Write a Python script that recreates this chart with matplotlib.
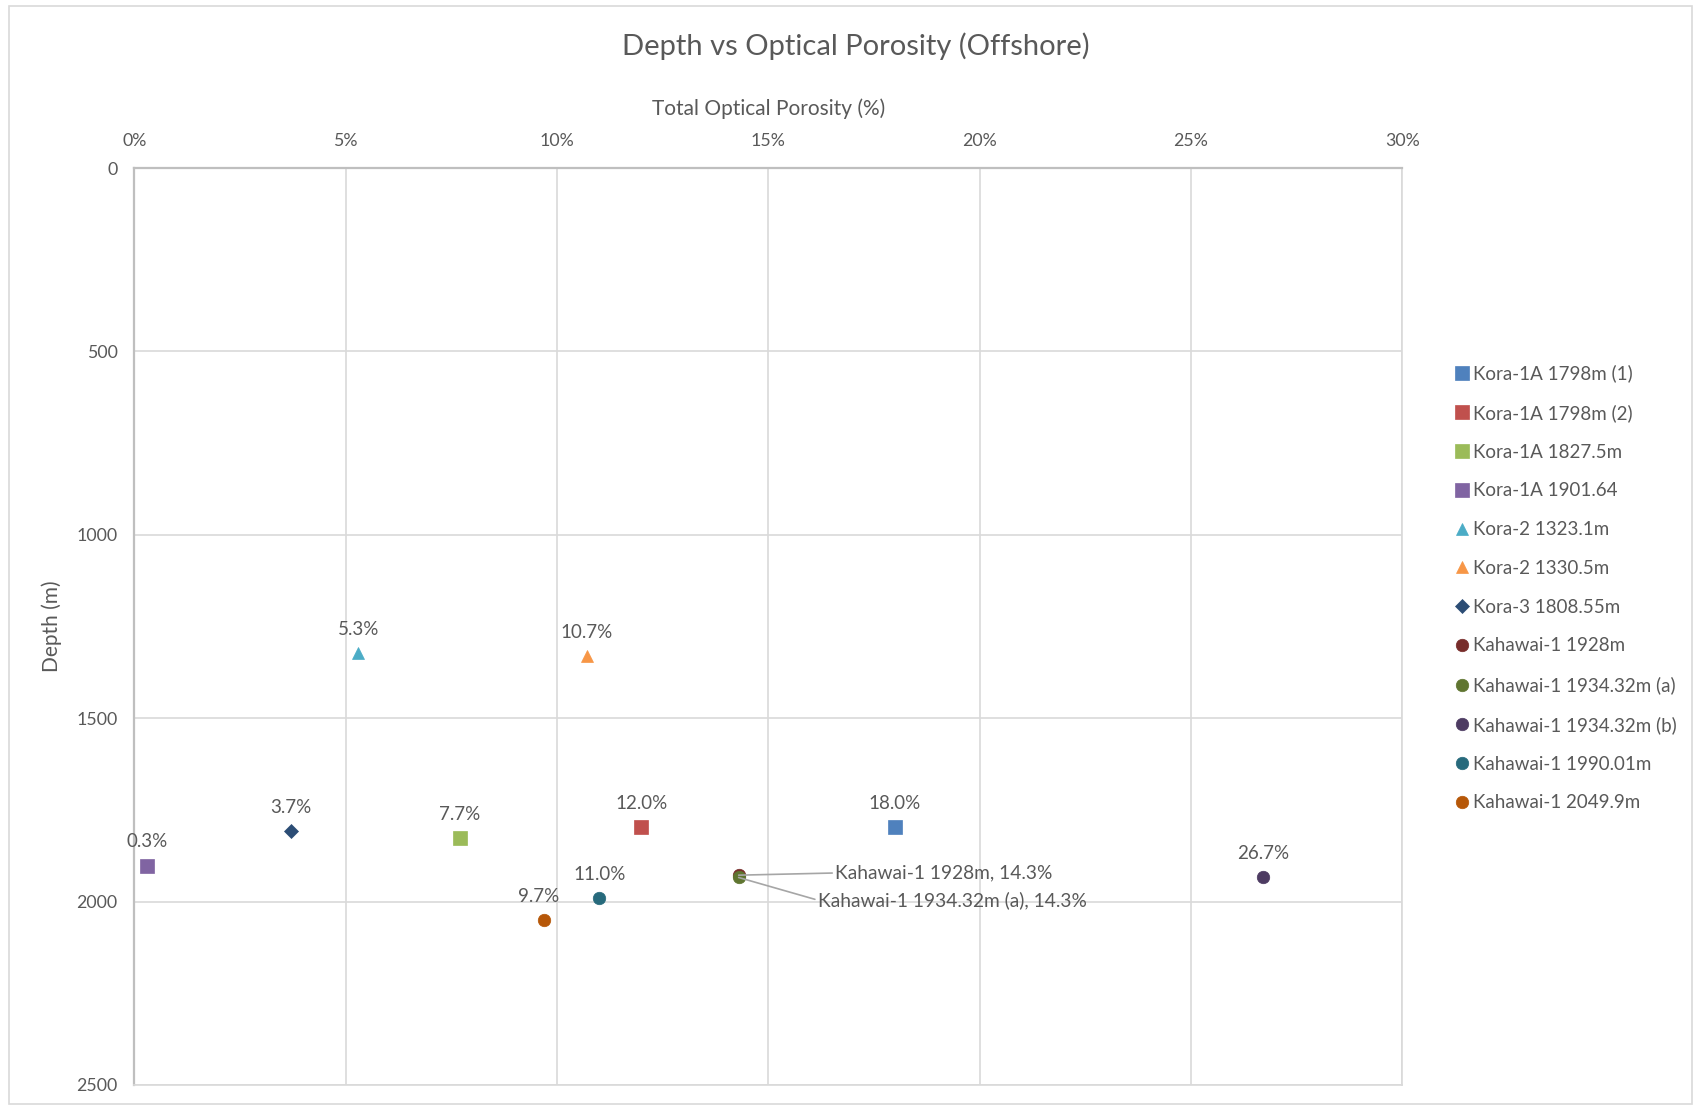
import matplotlib
matplotlib.use("Agg")
import matplotlib.pyplot as plt
from matplotlib.patches import Rectangle
from matplotlib.ticker import FuncFormatter, MultipleLocator

plt.rcParams['font.family'] = ['Lato', 'DejaVu Sans']

# samples: name, porosity (fraction), depth (m)
names = ['Kora-1A 1798m (1)', 'Kora-1A 1798m (2)', 'Kora-1A 1827.5m', 'Kora-1A 1901.64',
         'Kora-2 1323.1m', 'Kora-2 1330.5m', 'Kora-3 1808.55m',
         'Kahawai-1 1928m', 'Kahawai-1 1934.32m (a)', 'Kahawai-1 1934.32m (b)',
         'Kahawai-1 1990.01m', 'Kahawai-1 2049.9m']
porosity = [0.180, 0.120, 0.077, 0.003, 0.053, 0.107, 0.037,
            0.143, 0.143, 0.267, 0.110, 0.097]
depth = [1798, 1798, 1827.5, 1901.64, 1323.1, 1330.5, 1808.55,
         1928, 1934.32, 1934.32, 1990.01, 2049.9]
markers = ['s', 's', 's', 's', '^', '^', 'D', 'o', 'o', 'o', 'o', 'o']
colors = ['#4F81BD', '#C0504D', '#9BBB59', '#8064A2', '#4BACC6', '#F79646',
          '#2C4D75', '#772C2A', '#5F7530', '#4D3B62', '#276A7C', '#B65708']
msizes = [9.5, 9.5, 9.5, 9.5, 9, 9, 7.5, 9, 9, 9, 9, 9]

TXT = '#595959'
GRID = '#D9D9D9'

fig = plt.figure(figsize=(17, 11.07), dpi=100)
fig.patches.append(Rectangle((0.005, 0.003), 0.99, 0.992, transform=fig.transFigure,
                             fill=False, edgecolor='#D9D9D9', linewidth=1.2))
ax = fig.add_axes([0.079, 0.0199, 0.7458, 0.8283])

for n, x, y, m, c, ms in zip(names, porosity, depth, markers, colors, msizes):
    ax.plot([x], [y], linestyle='none', marker=m, color=c, markersize=ms,
            markeredgewidth=0.5, markeredgecolor=c, label=n, zorder=3)

# value labels above points (the two overlapping Kahawai points get callouts)
for n, x, y in zip(names, porosity, depth):
    if n in ('Kahawai-1 1928m', 'Kahawai-1 1934.32m (a)'):
        continue
    dx = -4 if n == 'Kahawai-1 2049.9m' else 0
    ax.annotate(f'{x * 100:.1f}%', (x, y), xytext=(dx, 11), textcoords='offset points',
                ha='center', va='bottom', fontsize=13.5, color=TXT)

callouts = [('Kahawai-1 1928m', 0.1658, 1922), ('Kahawai-1 1934.32m (a)', 0.1617, 1996)]
for n, tx, ty in callouts:
    i = names.index(n)
    ax.annotate(f'{n}, {porosity[i] * 100:.1f}%', (porosity[i], depth[i]), xytext=(tx, ty),
                textcoords='data', ha='left', va='center', fontsize=13.8, color=TXT,
                arrowprops=dict(arrowstyle='-', color='#A6A6A6', lw=1.2,
                                shrinkA=0, shrinkB=0, relpos=(0, 0.5)))

ax.set_xlim(0, 0.30)
ax.set_ylim(2500, 0)
ax.xaxis.set_major_locator(MultipleLocator(0.05))
ax.yaxis.set_major_locator(MultipleLocator(500))
ax.xaxis.set_major_formatter(FuncFormatter(lambda v, p: f'{v * 100:.0f}%'))
ax.xaxis.tick_top()
ax.xaxis.set_label_position('top')
ax.tick_params(axis='both', length=0, labelsize=12.8, labelcolor=TXT)
ax.tick_params(axis='x', pad=14)
ax.tick_params(axis='y', pad=12)
ax.grid(True, color=GRID, linewidth=1.2)
ax.set_axisbelow(True)
for side in ('bottom', 'right'):
    ax.spines[side].set_color(GRID)
    ax.spines[side].set_linewidth(1.2)
for side in ('top', 'left'):
    ax.spines[side].set_color('#BFBFBF')
    ax.spines[side].set_linewidth(1.6)

ax.set_xlabel('Total Optical Porosity (%)', fontsize=15, color=TXT, labelpad=13)
ax.set_ylabel('Depth (m)', fontsize=15, color=TXT, labelpad=10)
fig.text(0.5035, 0.9585, 'Depth vs Optical Porosity (Offshore)', ha='center', va='center',
         fontsize=21, color=TXT)

leg = ax.legend(loc='upper left', bbox_to_anchor=(1.037, 0.794), frameon=False,
                fontsize=13.5, labelspacing=1.16, handlelength=0.6, handletextpad=0.3,
                borderaxespad=0)
for t in leg.get_texts():
    t.set_color(TXT)

fig.savefig('out.png', dpi=100)
